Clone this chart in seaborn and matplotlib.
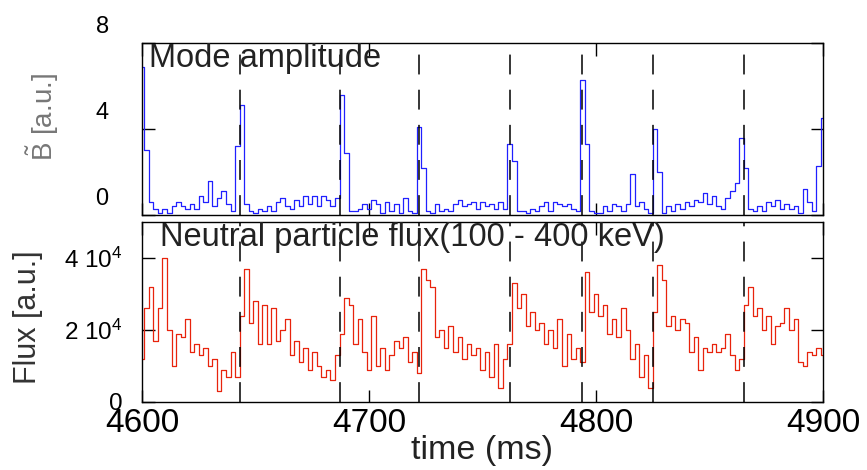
import numpy as np
import pandas as pd
import matplotlib
matplotlib.use('Agg')
import matplotlib.pyplot as plt
import seaborn as sns
from matplotlib.transforms import ScaledTranslation

# sampling grid (ms)
time_ms = np.arange(4600, 4901, 2)

# mode amplitude (a.u.), one row = 20 ms
mode_amp = [
    6.9, 3.0, 0.6, 0.3, 0.1, 0.3, 0.1, 0.4, 0.6, 0.4,
    0.3, 0.5, 0.3, 0.9, 0.6, 1.6, 0.4, 0.8, 1.1, 0.5,
    0.2, 3.2, 5.1, 0.5, 0.2, 0.1, 0.3, 0.2, 0.4, 0.2,
    0.6, 0.8, 0.4, 0.3, 0.7, 0.4, 0.9, 0.5, 0.9, 0.4,
    0.9, 0.7, 0.4, 0.8, 5.6, 2.9, 0.2, 0.2, 0.3, 0.5,
    0.3, 0.7, 0.5, 0.1, 0.6, 0.2, 0.5, 0.1, 0.8, 0.2,
    0.1, 4.1, 2.2, 0.2, 0.1, 0.5, 0.2, 0.3, 0.2, 0.5,
    0.7, 0.4, 0.5, 0.6, 0.3, 0.6, 0.4, 0.5, 0.3, 0.6,
    0.3, 3.3, 2.5, 0.2, 0.2, 0.1, 0.3, 0.2, 0.4, 0.6,
    0.2, 0.6, 0.5, 0.4, 0.5, 0.3, 0.2, 6.3, 3.3, 0.2,
    0.1, 0.1, 0.4, 0.2, 0.5, 0.4, 0.2, 0.5, 1.9, 0.4,
    0.6, 0.3, 0.1, 4.0, 2.0, 0.1, 0.4, 0.2, 0.5, 0.3,
    0.6, 0.4, 0.7, 0.6, 1.0, 0.5, 0.9, 0.4, 0.3, 0.8,
    1.1, 1.5, 3.6, 2.2, 0.3, 0.2, 0.4, 0.2, 0.6, 0.4,
    0.7, 0.3, 0.5, 0.3, 0.4, 0.1, 1.2, 0.6, 0.2, 2.3,
    4.5,
]

# neutral particle flux (units of 1e4 a.u.)
flux_1e4 = [
    1.2, 2.6, 3.2, 1.7, 2.6, 4.0, 2.0, 1.0, 1.9, 1.8,
    2.3, 1.4, 1.6, 1.3, 1.5, 1.0, 1.2, 0.3, 0.9, 0.7,
    1.4, 0.7, 2.4, 3.7, 2.2, 2.8, 1.6, 2.7, 1.6, 2.6,
    1.7, 2.0, 2.3, 1.3, 1.7, 1.1, 1.5, 0.9, 1.4, 1.0,
    0.7, 0.9, 0.6, 1.3, 1.9, 2.9, 2.7, 1.6, 2.3, 1.4,
    0.9, 2.4, 1.0, 1.5, 0.9, 1.3, 1.7, 1.5, 1.8, 1.1,
    1.4, 0.8, 3.7, 3.4, 3.2, 1.8, 2.0, 1.5, 2.1, 1.4,
    1.8, 1.2, 1.6, 1.3, 1.5, 0.9, 1.4, 0.7, 1.6, 0.4,
    1.2, 1.6, 3.3, 2.6, 3.0, 2.1, 2.5, 2.0, 2.2, 1.6,
    2.0, 1.5, 2.3, 1.0, 1.9, 1.2, 1.5, 1.1, 3.6, 2.5,
    3.0, 2.4, 2.7, 1.9, 2.3, 1.8, 2.6, 2.0, 1.2, 1.6,
    0.7, 1.3, 0.4, 2.5, 3.8, 3.4, 2.1, 2.4, 2.0, 2.3,
    2.2, 1.4, 1.8, 0.9, 1.5, 1.4, 1.6, 1.4, 1.5, 1.9,
    1.3, 0.9, 1.2, 2.7, 3.2, 2.4, 2.6, 2.0, 2.4, 1.6,
    2.1, 2.2, 2.6, 2.0, 2.3, 1.1, 1.0, 1.4, 1.3, 1.5,
    1.3,
]

# sawtooth crash times (ms)
crash_times = [4643, 4687, 4722, 4762, 4794, 4825, 4865]

xticks = [4600, 4700, 4800, 4900]
xtick_labels = ['4600', '4700', '4800', '4900']
mode_ticks = [0, 4, 8]
flux_ticks = [0, 2e4, 4e4]
flux_tick_labels = ['0', '2 10$^4$', '4 10$^4$']

sns.set_style('ticks')
plt.rcParams['font.family'] = ['Liberation Sans', 'DejaVu Sans']
plt.rcParams['mathtext.fontset'] = 'custom'
plt.rcParams['mathtext.rm'] = 'Liberation Sans'
plt.rcParams['mathtext.it'] = 'Liberation Sans:italic'
plt.rcParams['mathtext.default'] = 'regular'

df = pd.DataFrame({'time': time_ms, 'mode': mode_amp,
                   'flux': np.array(flux_1e4) * 1e4})

fig = plt.figure(figsize=(8.67, 4.70), dpi=100)
ax1 = fig.add_axes([0.1638, 0.5426, 0.7855, 0.366])
ax2 = fig.add_axes([0.1638, 0.1447, 0.7855, 0.383])

sns.lineplot(data=df, x='time', y='mode', ax=ax1, color='#2020ff',
             lw=0.9, drawstyle='steps-mid')
sns.lineplot(data=df, x='time', y='flux', ax=ax2, color='#e8230c',
             lw=0.9, drawstyle='steps-mid')

for ax in (ax1, ax2):
    for t in crash_times:
        ax.axvline(t, color='black', lw=1.1, dashes=(13, 10), zorder=3)
    ax.set_xlim(4600, 4900)
    ax.set_xticks(xticks)
    ax.tick_params(direction='in', length=9, width=1, top=True, right=True,
                   colors='black', pad=6)
    for s in ax.spines.values():
        s.set_visible(True)
        s.set_linewidth(1)
        s.set_color('black')
    ax.set_xlabel('')
    ax.set_ylabel('')

ax1.set_ylim(0, 8)
ax1.set_yticks(mode_ticks)
ax1.tick_params(axis='y', pad=24)
ax1.set_yticklabels([str(v) for v in mode_ticks], fontsize=17)
ax1.set_xticklabels([])
# labels in the original sit a bit above their ticks
shift = ScaledTranslation(0, 0.18, fig.dpi_scale_trans)
for tick in ax1.yaxis.get_major_ticks():
    tick.label1.set_transform(tick.label1.get_transform() + shift)

ax2.set_ylim(0, 5e4)
ax2.set_yticks(flux_ticks)
ax2.tick_params(axis='y', pad=14)
ax2.set_yticklabels(flux_tick_labels, fontsize=17.5)
ax2.tick_params(axis='x', pad=4)
ax2.set_xticklabels(xtick_labels, fontsize=24)

ax1.text(0.01, 1.0, 'Mode amplitude', transform=ax1.transAxes,
         ha='left', va='top', fontsize=23.5, color='#222222')
ax2.text(0.026, 1.0, 'Neutral particle flux(100 - 400 keV)',
         transform=ax2.transAxes, ha='left', va='top', fontsize=23.5,
         color='#222222')

fig.text(43 / 867, 1 - 117 / 470, r'$\tilde{B}$ [a.u.]', rotation=90,
         ha='center', va='center', fontsize=20, color='#777777')
fig.text(28 / 867, 1 - 317 / 470, 'Flux [a.u.]', rotation=90,
         ha='center', va='center', fontsize=22, color='#333333')
fig.text(482 / 867, 1 - 451 / 470, 'time (ms)', ha='center', va='center',
         fontsize=24.5, color='#222222')

fig.savefig('out.png', dpi=100)
